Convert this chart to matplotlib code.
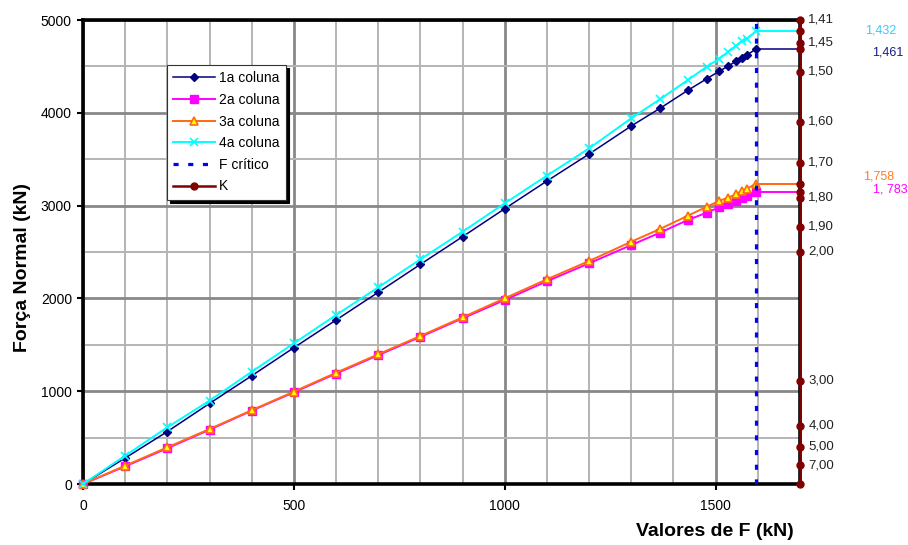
import matplotlib
matplotlib.use("Agg")
import matplotlib.pyplot as plt
from matplotlib.ticker import MultipleLocator

plt.rcParams['font.family'] = ['Liberation Sans', 'DejaVu Sans']

# Applied load F (kN)
F_values = [0, 100, 200, 300, 400, 500, 600, 700, 800, 900, 1000, 1100, 1200, 1300,
            1368, 1434, 1479, 1508, 1529, 1548, 1562, 1574, 1595]

# Normal force in each column (kN)
coluna1 = [0, 280, 565, 868, 1166, 1469, 1767, 2066, 2367, 2665, 2967, 3265, 3556, 3858,
           4048, 4242, 4367, 4447, 4501, 4555, 4587, 4623, 4685]
coluna2 = [0, 190, 385, 585, 790, 988, 1190, 1388, 1585, 1785, 1983, 2185, 2378, 2575,
           2708, 2845, 2924, 2981, 3017, 3053, 3085, 3107, 3146]
coluna3 = [0, 197, 395, 592, 795, 995, 1199, 1398, 1595, 1796, 2001, 2206, 2403, 2611,
           2748, 2891, 2988, 3050, 3085, 3122, 3158, 3179, 3236]
coluna4 = [0, 305, 611, 898, 1210, 1516, 1821, 2119, 2421, 2719, 3025, 3323, 3617, 3941,
           4146, 4353, 4497, 4583, 4655, 4723, 4770, 4799, 4877]

F_critico = 1595
F_max = 1700

# K scale drawn along the right edge
K_normal = [5000, 4877, 4756, 4685, 4444, 3906, 3460, 3236, 3146, 3086, 2770, 2500,
            1111, 625, 400, 204, 0]
K_labels = ['1,41', '', '1,45', '', '1,50', '1,60', '1,70', '', '', '1,80', '1,90', '2,00',
            '3,00', '4,00', '5,00', '7,00', '']

# K of each column at the critical load
K_col_labels = ['1,461', '1, 783', '1,758', '1,432']

navy, magenta, orange, cyan = '#000080', '#FF00FF', '#FF6A10', '#00FFFF'
dark_red = '#800000'

fig = plt.figure(figsize=(9.08, 5.45), dpi=100)
ax = fig.add_axes([83 / 908, 1 - 484 / 545, 717 / 908, 464 / 545])
ax.set_xlim(0, F_max)
ax.set_ylim(0, 5000)

# grid
ax.xaxis.set_major_locator(MultipleLocator(500))
ax.xaxis.set_minor_locator(MultipleLocator(100))
ax.yaxis.set_major_locator(MultipleLocator(1000))
ax.yaxis.set_minor_locator(MultipleLocator(500))
ax.grid(which='major', color='#888888', lw=2.0, zorder=0)
ax.grid(which='minor', color='#B4B4B4', lw=1.4, zorder=0)
ax.set_axisbelow(True)

for side in ['top', 'left', 'bottom', 'right']:
    ax.spines[side].set_linewidth(2.6)
    ax.spines[side].set_color('black')

ax.tick_params(axis='both', which='major', length=4, width=1.5, labelsize=10, color='black')
ax.tick_params(axis='x', which='major', pad=7)
ax.tick_params(axis='y', which='major', pad=4)
ax.tick_params(which='minor', length=0)

series = [
    (coluna1, '1a coluna', navy, dict(marker='D', ms=4, mfc=navy, mec=navy, lw=1.1)),
    (coluna2, '2a coluna', magenta, dict(marker='s', ms=5.5, mfc=magenta, mec=magenta, lw=1.4)),
    (coluna3, '3a coluna', orange, dict(marker='^', ms=6, mfc='#FFFF00', mec=orange, mew=1.2, lw=1.4)),
    (coluna4, '4a coluna', cyan, dict(marker='x', ms=6, mec=cyan, mew=1.2, lw=1.4)),
]
handles = []
for vals, label, color, kw in series:
    h, = ax.plot(F_values, vals, color=color, label=label, zorder=3, clip_on=False, **kw)
    ax.plot([F_values[-1], F_max], [vals[-1], vals[-1]], color=color, lw=kw['lw'], zorder=3)
    handles.append(h)

hf, = ax.plot([F_critico, F_critico], [0, 5000], color='#0000FF', lw=2.3,
              linestyle=(0, (1.6, 3.0)), label='F crítico', zorder=4)
handles.append(hf)

hk, = ax.plot([F_max] * len(K_normal), K_normal, color=dark_red, lw=1.8, marker='o', ms=5,
              label='K', zorder=5, clip_on=False)
handles.append(hk)

for y, lab in zip(K_normal, K_labels):
    if lab:
        ax.annotate(lab, (F_max, y), xytext=(6, 0), textcoords='offset points',
                    va='center', ha='left', fontsize=9.5, color='#222222',
                    annotation_clip=False)

col_label_style = [
    (coluna4[-1], K_col_labels[3], '#33CCFF', (47, 1)),
    (coluna1[-1], K_col_labels[0], '#1A1A80', (52, -2)),
    (coluna3[-1], K_col_labels[2], '#FF7F27', (45.5, 5)),
    (coluna2[-1], K_col_labels[1], magenta, (52.5, 2)),
]
for y, lab, color, off in col_label_style:
    ax.annotate(lab, (F_max, y), xytext=off, textcoords='offset points',
                va='center', ha='left', fontsize=9, color=color, annotation_clip=False)

leg = ax.legend(handles=handles, loc='upper left', bbox_to_anchor=(0.117, 0.903),
                fontsize=10, frameon=True, fancybox=False, edgecolor='#333333',
                framealpha=1, handlelength=3.0, handletextpad=0.3, labelspacing=0.55,
                borderpad=0.45, borderaxespad=0,
                shadow={'color': 'black', 'alpha': 1, 'ox': 2.5, 'oy': -2.5})
leg.get_frame().set_linewidth(0.8)
leg.set_zorder(6)

fig.text(23 / 908, 1 - 267 / 545, 'Força Normal (kN)', rotation=90, ha='center',
         va='center', fontsize=14, fontweight='bold')
fig.text(794 / 908, 1 - 532 / 545, 'Valores de F (kN)', ha='right', va='center',
         fontsize=14, fontweight='bold')

fig.savefig('out.png', dpi=100)
